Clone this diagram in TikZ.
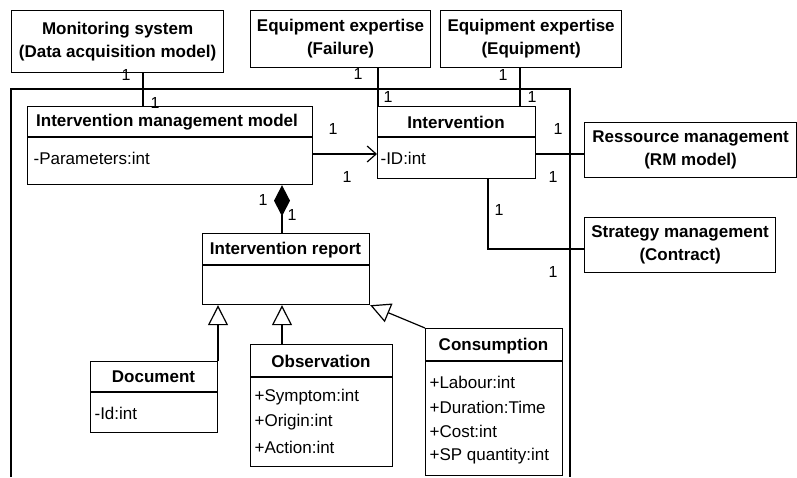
\documentclass[tikz,border=0pt]{standalone}
\usepackage{fontspec}
\setmainfont{Liberation Sans}
\usetikzlibrary{arrows.meta,calc}
\begin{document}
\begin{tikzpicture}[x=1pt,y=-1pt,
  line width=1.2pt,
  box/.style={draw, fill=white, anchor=north west, inner sep=0pt},
  ttl/.style={font=\fontsize{17}{23}\selectfont\bfseries, align=center, inner sep=0pt},
  attr/.style={font=\fontsize{17}{19}\selectfont, anchor=west, inner sep=0pt},
  mult/.style={font=\fontsize{16}{18}\selectfont, inner sep=0pt},
  gen/.style={-{Triangle[open,length=20pt,width=20pt,fill=white]}},
]
\useasboundingbox (0,0) rectangle (797,477);
% frame
\draw (11,477) -- (11,89) -- (570,89) -- (570,477);
% external boxes
\node[box, minimum width=212pt, minimum height=62pt] (mon) at (11,10) {};
\node[ttl] (mont) at (mon.center) {Monitoring system\\(Data acquisition model)};
\node[box, minimum width=180pt, minimum height=57pt] (eef) at (250,10) {};
\node[ttl] (eeft) at (eef.center) {Equipment expertise\\(Failure)};
\node[box, minimum width=181pt, minimum height=57pt] (eee) at (440,10) {};
\node[ttl] (eeet) at (eee.center) {Equipment expertise\\(Equipment)};
\node[box, minimum width=212pt, minimum height=55pt] (rm) at (584,122) {};
\node[ttl] (rmt) at (rm.center) {Ressource management\\(RM model)};
\node[box, minimum width=191pt, minimum height=55pt] (strat) at (584,217) {};
\node[ttl] (stratt) at (strat.center) {Strategy management\\(Contract)};
% classes
\node[box, minimum width=285pt, minimum height=78pt] (imm) at (27,106) {};
\draw (27,137) -- (312,137);
\node[ttl] (immt) at (167,122) {Intervention management model};
\node[attr] (imma) at (33,158) {-Parameters:int};

\node[box, minimum width=158pt, minimum height=72pt] (int) at (377,106) {};
\draw (377,137) -- (535,137);
\node[ttl] (intt) at (456,122) {Intervention};
\node[attr] (inta) at (380,158) {-ID:int};

\node[box, minimum width=167pt, minimum height=71pt] (rep) at (202,233) {};
\draw (202,265) -- (369,265);
\node[ttl] (rept) at (285.5,250) {Intervention report};

\node[box, minimum width=127pt, minimum height=71pt] (doc) at (90,361) {};
\draw (90,392) -- (217,392);
\node[ttl] (doct) at (153.5,377) {Document};
\node[attr] (doca) at (94,413) {-Id:int};

\node[box, minimum width=142pt, minimum height=122pt] (obs) at (250,344) {};
\draw (250,377) -- (392,377);
\node[ttl] (obst) at (321,361) {Observation};
\node[attr] (obs1) at (254,397) {+Symptom:int};
\node[attr] (obs2) at (254,422) {+Origin:int};
\node[attr] (obs3) at (254,447) {+Action:int};

\node[box, minimum width=137pt, minimum height=147pt] (cons) at (425,328) {};
\draw (425,361) -- (562,361);
\node[ttl] (const) at (493.5,346) {Consumption};
\node[attr] (cons1) at (429,382) {+Labour:int};
\node[attr] (cons2) at (429,407) {+Duration:Time};
\node[attr] (cons3) at (429,431) {+Cost:int};
\node[attr] (cons4) at (429,456) {+SP quantity:int};

% connector x positions
\coordinate (x143) at (143,0);
\coordinate (x378) at (378,0);
\coordinate (x520) at (520,0);
\coordinate (x282) at (282,0);
\coordinate (x218) at (218,0);
\coordinate (x488) at (488,0);
\coordinate (y249) at (0,249);
\coordinate (y154) at (0,154);

\draw (mon.south -| x143) -- (imm.north -| x143);
\draw (eef.south -| x378) -- (int.north -| x378);
\draw (eee.south -| x520) -- (int.north -| x520);
\draw[-{Straight Barb[length=9pt,width=16pt]}] (imm.east |- y154) -- (int.west |- y154);
\draw (int.east |- y154) -- (rm.west |- y154);
\draw (int.south -| x488) |- (strat.west |- y249);
\draw[{Diamond[length=31pt,width=16pt]}-] (imm.south -| x282) -- (rep.north -| x282);
\draw[gen] (doc.north -| x218) -- (rep.south -| x218);
\draw[gen] (obs.north -| x282) -- (rep.south -| x282);
\draw[gen] (cons.north west) -- (rep.south east);

% multiplicities
\node[mult] (m1) at (126,75) {1};
\node[mult] (m2) at (155,103) {1};
\node[mult] (m3) at (358,74) {1};
\node[mult] (m4) at (388,97) {1};
\node[mult] (m5) at (503,75) {1};
\node[mult] (m6) at (532,97) {1};
\node[mult] (m7) at (333,129) {1};
\node[mult] (m8) at (347,177) {1};
\node[mult] (m9) at (558,129) {1};
\node[mult] (m10) at (553,177) {1};
\node[mult] (m11) at (263,200) {1};
\node[mult] (m12) at (292,215) {1};
\node[mult] (m13) at (499,210) {1};
\node[mult] (m14) at (553,272) {1};
\end{tikzpicture}
\end{document}
